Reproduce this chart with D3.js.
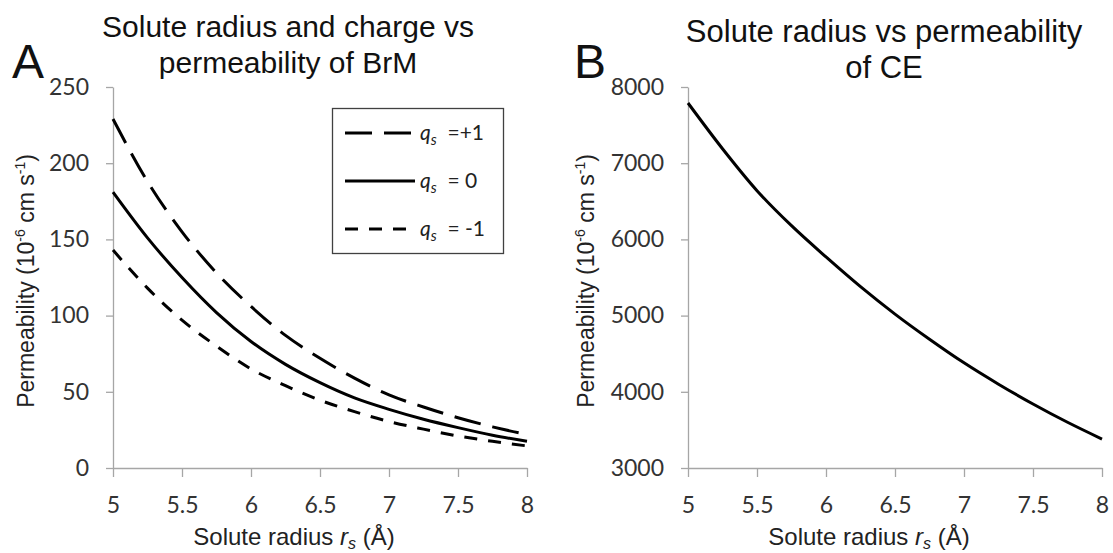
<!DOCTYPE html>
<html>
<head>
<meta charset="utf-8">
<script src="https://cdn.jsdelivr.net/npm/d3@7"></script>
<style>
  body { margin: 0; background: #fff; }
  svg { display: block; }
</style>
</head>
<body>
<div id="chart"></div>
<script>
// solute radius (Å)
const radius = [5, 5.25, 5.5, 5.75, 6, 6.25, 6.5, 6.75, 7, 7.25, 7.5, 7.75, 8];

// panel A: BrM permeability (10^-6 cm/s) per solute charge
const permPlus1 = [229, 188, 155, 128, 106, 87, 72, 59, 48, 40, 33, 27, 22];
const permZero = [181, 151, 125, 102, 83, 68, 56, 46, 38.5, 32, 26.5, 21.5, 17.5];
const permMinus1 = [143, 118, 97, 80, 65, 54, 44.5, 37, 30.5, 25.5, 21, 17.5, 14.5];

// panel B: CE permeability
const permCE = [7790, 7190, 6640, 6180, 5770, 5380, 5020, 4690, 4380, 4100, 3840, 3600, 3380];

const xTicks = [5, 5.5, 6, 6.5, 7, 7.5, 8];
const yTicksA = [0, 50, 100, 150, 200, 250];
const yTicksB = [3000, 4000, 5000, 6000, 7000, 8000];

const legendLabels = ["=+1", "= 0", "= -1"];

const W = 1113, H = 553;
const axisColor = "#a6a6a6";
const tickFont = "Lato, 'Open Sans', sans-serif";
const titleFont = "'Liberation Sans', Arial, sans-serif";

const svg = d3.select("#chart").append("svg")
    .attr("width", W)
    .attr("height", H);

// draws one panel, returns the scales
function panel(opts) {
    const x = d3.scaleLinear().domain([5, 8]).range([opts.left, opts.right]);
    const y = d3.scaleLinear().domain(opts.yDomain).range([468, 87]);

    const gx = svg.append("g")
        .attr("transform", "translate(0,468)")
        .call(d3.axisBottom(x).tickValues(xTicks).tickSize(9).tickSizeOuter(0).tickPadding(20)
            .tickFormat(d3.format("")));
    const gy = svg.append("g")
        .attr("transform", "translate(" + opts.left + ",0)")
        .call(d3.axisLeft(y).tickValues(opts.yTicks).tickSize(7).tickSizeOuter(0).tickPadding(17)
            .tickFormat(d3.format("")));

    [gx, gy].forEach(g => {
        g.select(".domain").attr("stroke", axisColor).attr("stroke-width", 1.3);
        g.selectAll(".tick line").attr("stroke", axisColor).attr("stroke-width", 1.3);
        g.selectAll(".tick text")
            .attr("fill", "#333")
            .style("font-family", tickFont)
            .style("font-size", "23px");
    });

    // titel, twee regels
    const t = svg.append("text")
        .attr("text-anchor", "middle")
        .attr("fill", "#111")
        .style("font-family", titleFont)
        .style("font-size", opts.titleSize + "px");
    opts.title.forEach((line, i) => {
        t.append("tspan")
            .attr("x", opts.titleX)
            .attr("y", opts.titleY + i * 36)
            .text(line);
    });

    // panel letter
    svg.append("text")
        .attr("x", opts.letterX)
        .attr("y", 78)
        .attr("fill", "#111")
        .style("font-family", titleFont)
        .style("font-size", "48px")
        .text(opts.letter);

    // x axis title
    const xt = svg.append("text")
        .attr("x", (opts.left + opts.right) / 2 - 26)
        .attr("y", 545)
        .attr("text-anchor", "middle")
        .attr("fill", "#222")
        .style("font-family", titleFont)
        .style("font-size", "24px");
    xt.append("tspan").text("Solute radius ");
    xt.append("tspan").style("font-style", "italic").text("r");
    xt.append("tspan").style("font-style", "italic").style("font-size", "16px").attr("dy", 4).text("s");
    xt.append("tspan").attr("dy", -4).text(" (Å)");

    // y axis title
    const yt = svg.append("text")
        .attr("transform", "translate(" + opts.yTitleX + ",281) rotate(-90)")
        .attr("text-anchor", "middle")
        .attr("fill", "#222")
        .style("font-family", titleFont)
        .style("font-size", "23px");
    yt.append("tspan").text("Permeability (10");
    yt.append("tspan").style("font-size", "14px").attr("dy", -9).text("-6");
    yt.append("tspan").attr("dy", 9).text(" cm s");
    yt.append("tspan").style("font-size", "14px").attr("dy", -9).text("-1");
    yt.append("tspan").attr("dy", 9).text(")");

    return { x, y };
}

const A = panel({
    left: 113, right: 527, yDomain: [0, 250], yTicks: yTicksA,
    title: ["Solute radius and charge vs", "permeability of BrM"],
    titleX: 288, titleY: 37, titleSize: 30, letter: "A", letterX: 12, yTitleX: 34
});

const B = panel({
    left: 688, right: 1102, yDomain: [3000, 8000], yTicks: yTicksB,
    title: ["Solute radius vs permeability", "of CE"],
    titleX: 884, titleY: 42, titleSize: 31, letter: "B", letterX: 574, yTitleX: 594
});

const seriesA = [
    { name: legendLabels[0], values: permPlus1, dash: "27,12" },
    { name: legendLabels[1], values: permZero, dash: null },
    { name: legendLabels[2], values: permMinus1, dash: "13,11" }
];

const lineA = d3.line()
    .x((d, i) => A.x(radius[i]))
    .y(d => A.y(d))
    .curve(d3.curveMonotoneX);

svg.append("g").selectAll("path")
    .data(seriesA)
    .enter().append("path")
    .attr("d", d => lineA(d.values))
    .attr("fill", "none")
    .attr("stroke", "#000")
    .attr("stroke-width", 3)
    .attr("stroke-dasharray", d => d.dash);

const lineB = d3.line()
    .x((d, i) => B.x(radius[i]))
    .y(d => B.y(d))
    .curve(d3.curveMonotoneX);

svg.append("path")
    .attr("d", lineB(permCE))
    .attr("fill", "none")
    .attr("stroke", "#000")
    .attr("stroke-width", 3);

// legend
const leg = svg.append("g");
leg.append("rect")
    .attr("x", 332.5).attr("y", 108.5)
    .attr("width", 171).attr("height", 145)
    .attr("fill", "#fff")
    .attr("stroke", "#404040")
    .attr("stroke-width", 1.3);

const rows = leg.selectAll(".row")
    .data(seriesA)
    .enter().append("g")
    .attr("class", "row")
    .attr("transform", (d, i) => "translate(0," + (133 + i * 48) + ")");

rows.append("line")
    .attr("x1", 345).attr("x2", 415)
    .attr("stroke", "#000")
    .attr("stroke-width", 3)
    .attr("stroke-dasharray", d => d.dash);

const lt = rows.append("text")
    .attr("x", 420)
    .attr("y", 7)
    .attr("fill", "#222")
    .style("font-family", tickFont)
    .style("font-size", "21px");
lt.append("tspan").style("font-style", "italic").text("q");
lt.append("tspan").style("font-style", "italic").style("font-size", "15px").attr("dy", 5).text("s");
lt.append("tspan").attr("dy", -5).attr("xml:space", "preserve").text(d => "  " + d.name);
</script>
</body>
</html>
